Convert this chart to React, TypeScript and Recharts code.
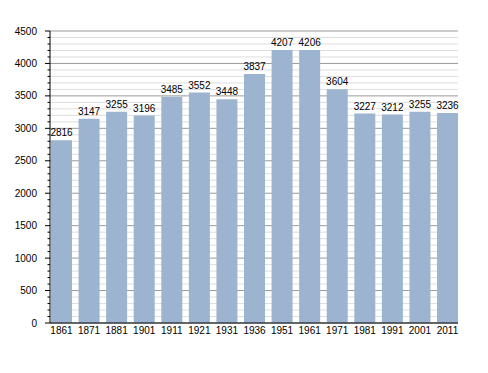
import React from "react";
import { BarChart, Bar, XAxis, YAxis, CartesianGrid, LabelList } from "recharts";

// Population by census year
const YEARS = ["1861", "1871", "1881", "1901", "1911", "1921", "1931", "1936", "1951", "1961", "1971", "1981", "1991", "2001", "2011"];
const POPULATION = [2816, 3147, 3255, 3196, 3485, 3552, 3448, 3837, 4207, 4206, 3604, 3227, 3212, 3255, 3236];

const MAJOR_TICKS = [0, 500, 1000, 1500, 2000, 2500, 3000, 3500, 4000, 4500];
const MINOR_STEPS = [0, 100, 200, 300, 400];
// every 100, used for minor grid + small tick marks
const ALL_TICKS = MAJOR_TICKS.flatMap((m) => (m === 4500 ? [m] : MINOR_STEPS.map((s) => m + s)));

const data = YEARS.map((year, i) => ({ year, pop: POPULATION[i] }));

const FONT = '"Liberation Sans", Arial, sans-serif';

function YTick(props: any) {
  const { x, y, payload } = props;
  const major = payload.value % 500 === 0;
  return (
    <g>
      <line x1={x - (major ? 5 : 2.5)} x2={x} y1={y} y2={y} stroke="#000" strokeWidth={1} />
      {major ? (
        <text x={x - 13} y={y} dy={3.5} textAnchor="end" fontSize={10} fill="#000" fontFamily={FONT}>
          {payload.value}
        </text>
      ) : null}
    </g>
  );
}

function GridLine(props: any) {
  const { x1, x2, y1, y2, index } = props;
  const major = index % 5 === 0;
  return <line x1={x1} x2={x2} y1={y1} y2={y2} stroke={major ? "#9a9a9a" : "#dddddd"} strokeWidth={1} />;
}

export default function App() {
  return (
    <div style={{ position: "absolute", left: 0, top: 0, width: 488, height: 373, background: "#fff" }}>
      <BarChart
        width={488}
        height={373}
        data={data}
        margin={{ top: 31, right: 30, bottom: 0, left: 0 }}
        barCategoryGap={3.3}
      >
        <CartesianGrid vertical={false} horizontal={GridLine as any} />
        <XAxis
          dataKey="year"
          height={50}
          padding={{ left: -2.3, right: -3.3 }}
          tickLine={false}
          tickSize={0}
          tickMargin={4}
          axisLine={{ stroke: "#000" }}
          interval={0}
          tick={{ fontSize: 10, fill: "#000", fontFamily: FONT }}
        />
        <YAxis
          width={50}
          domain={[0, 4500]}
          ticks={ALL_TICKS}
          interval={0}
          tickSize={0}
          tickMargin={0}
          tickLine={false}
          axisLine={{ stroke: "#000" }}
          tick={<YTick />}
        />
        <Bar dataKey="pop" fill="#9cb4cf" isAnimationActive={false}>
          <LabelList dataKey="pop" position="top" offset={4} fontSize={10} fill="#000" fontFamily={FONT} />
        </Bar>
      </BarChart>
    </div>
  );
}
